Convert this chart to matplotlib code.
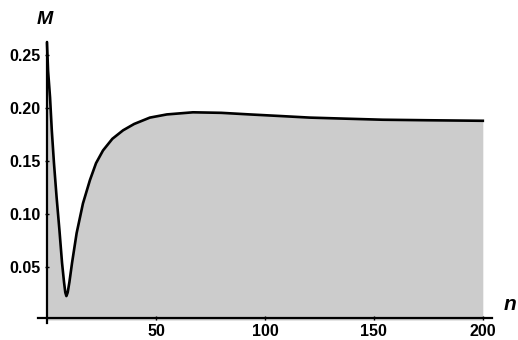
import matplotlib
matplotlib.use("Agg")
from matplotlib import pyplot as plt

# values
n = [0, 0.5, 1.4, 2.2, 3.2, 4.4, 5.7, 6.9, 7.8, 8.4, 8.9, 9.5, 10.3, 11.5, 13.6, 16.5, 19.7,
     22.5, 25.7, 30, 34.9, 40, 47.2, 55, 67, 80, 93, 107, 120.6, 137, 154, 175, 200]
M = [0.261, 0.235, 0.21, 0.179, 0.148, 0.116, 0.085, 0.054, 0.036, 0.026, 0.0226, 0.026,
     0.036, 0.054, 0.082, 0.11, 0.132, 0.148, 0.160, 0.171, 0.179, 0.185, 0.191, 0.194,
     0.196, 0.1955, 0.194, 0.1925, 0.191, 0.190, 0.189, 0.1885, 0.188]

xticks = [50, 100, 150, 200]
yticks = [0.05, 0.10, 0.15, 0.20, 0.25]

fig = plt.figure(figsize=(5.18, 3.4), dpi=100)
ax = fig.add_axes([0.0739, 0.0494, 0.875, 0.826])

ax.fill_between(n, 0, M, color="#cccccc", lw=0)
ax.plot(n, M, color="black", lw=1.9)

ax.set_xlim(-4, 204)
ax.set_ylim(-0.003, 0.262)
ax.spines["left"].set_position(("data", 0))
ax.spines["bottom"].set_position(("data", 0.002))
ax.spines["top"].set_visible(False)
ax.spines["right"].set_visible(False)
for s in ("left", "bottom"):
    ax.spines[s].set_linewidth(1.6)

ax.set_xticks(xticks)
ax.set_yticks(yticks)
ax.set_yticklabels([f"{v:.2f}" for v in yticks])
ax.tick_params(direction="inout", length=3, width=1, pad=3)
for lab in ax.get_xticklabels() + ax.get_yticklabels():
    lab.set_family("Liberation Sans")
    lab.set_weight("bold")
    lab.set_fontsize(11.5)

fig.text(510 / 518, 1 - 305 / 340, "n", family="Liberation Sans", style="italic",
         weight="bold", fontsize=15, ha="center", va="center")
fig.text(45 / 518, 1 - 19 / 340, "M", family="Liberation Sans", style="italic",
         weight="bold", fontsize=14, ha="center", va="center")

fig.savefig("out.png", dpi=100)
